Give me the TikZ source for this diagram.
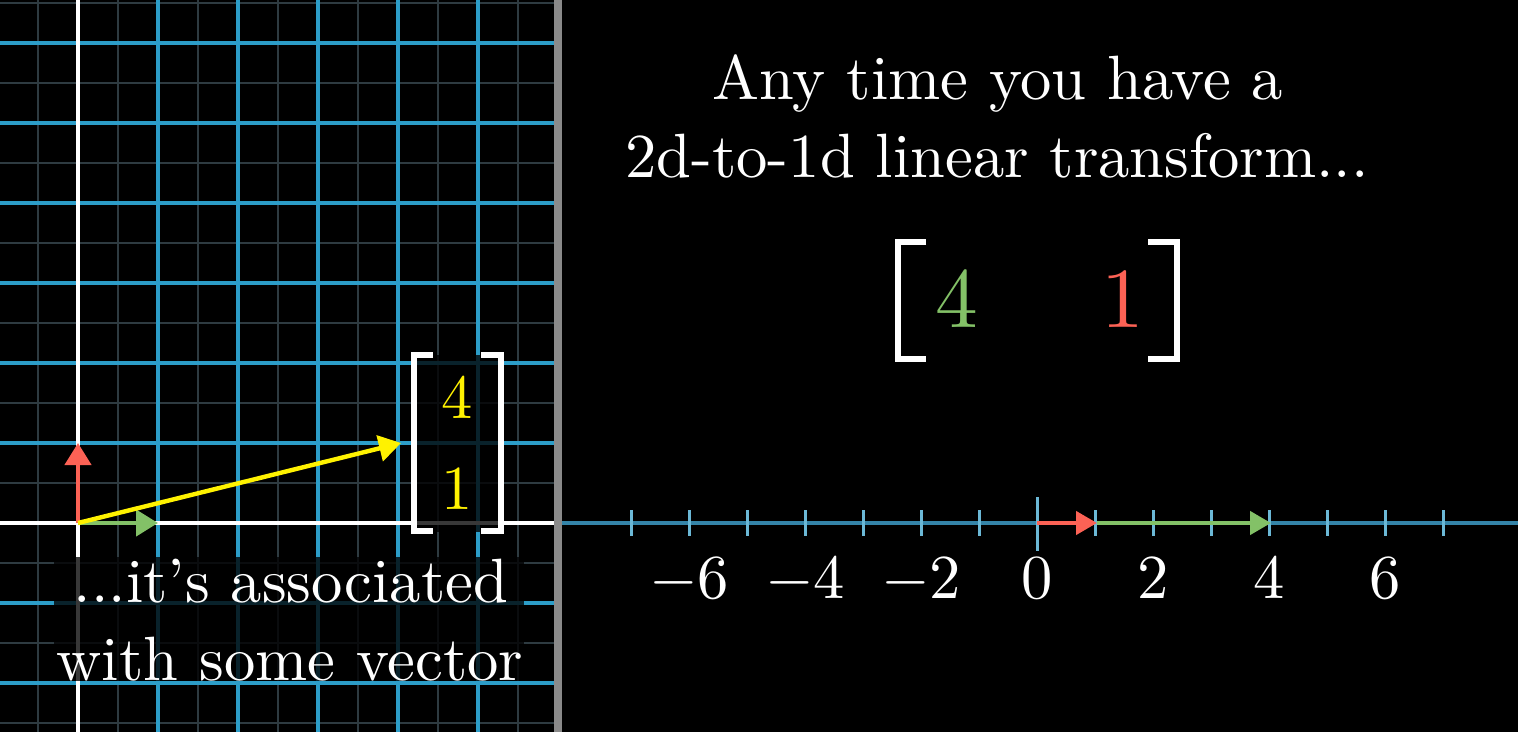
\documentclass[tikz,border=0pt]{standalone}
\usetikzlibrary{arrows.meta}
\definecolor{gridblue}{HTML}{2C9DC8}
\definecolor{faintgrid}{HTML}{2E3B41}
\definecolor{lineblue}{HTML}{3484A8}
\definecolor{tickblue}{HTML}{6BB8D6}
\definecolor{vecred}{HTML}{FC6255}
\definecolor{vecgreen}{HTML}{83C167}
\definecolor{vecyellow}{HTML}{FFF200}
\definecolor{divgray}{HTML}{8A8A8A}

\begin{document}
\begin{tikzpicture}[x=0.5pt, y=-0.5pt,
    txt/.style={text=white, font=\fontsize{10}{12}\selectfont, scale=3.13, inner sep=0pt, anchor=base},
    bigdigit/.style={font=\fontsize{10}{12}\selectfont, scale=4.27, inner sep=0pt, anchor=base},
    bracket/.style={draw=white, line width=2.6pt, miter limit=10},
    vec/.style={line width=2.2pt, -{Triangle[length=11pt, width=13pt]}},
    linevec/.style={line width=2.2pt, -{Triangle[length=10.5pt, width=11.5pt]}},
    dimbox/.style={fill=black, opacity=0.78}]
    \fill[black] (0,0) rectangle (1518,732);
    \useasboundingbox (0,0) rectangle (1518,732);

    % left half: plane with grid
    \begin{scope}
        \clip (0,0) rectangle (554,732);
        \foreach \x in {38,118,...,518}
            \draw[faintgrid, line width=1pt] (\x,0) -- (\x,732);
        \foreach \y in {3,83,...,723}
            \draw[faintgrid, line width=1pt] (0,\y) -- (554,\y);
        \foreach \x in {158,238,...,478}
            \draw[gridblue, line width=2pt] (\x,0) -- (\x,732);
        \foreach \y in {43,123,...,683}
            \draw[gridblue, line width=2pt] (0,\y) -- (554,\y);
        \draw[white, line width=2pt] (0,523) -- (554,523);
        \draw[white, line width=2pt] (78,0) -- (78,732);
        \fill[dimbox] (414,355) rectangle (501,532);
        \fill[dimbox] (54,557) rectangle (524,681);
    \end{scope}
    \fill[divgray] (554,0) rectangle (562,732);

    \coordinate (O) at (78,523);
    \coordinate (ihat) at (158,523);
    \coordinate (jhat) at (78,443);
    \coordinate (v) at (401,443);
    \draw[vec, vecred] (O) -- (jhat);
    \draw[vec, vecgreen] (O) -- (ihat);
    \draw[vec, vecyellow] (O) -- (v);

    % column vector
    \draw[bracket] (433,355) -- (414,355) -- (414,531) -- (433,531);
    \draw[bracket] (481,355) -- (501,355) -- (501,531) -- (481,531);
    \node[txt, text=vecyellow] (v4) at (457,418) {$4$};
    \node[txt, text=vecyellow] (v1) at (457,509) {$1$};

    \node[txt] (cap1) at (291,602) {...it's associated};
    \node[txt] (cap2) at (290,680) {with some vector};

    % right half: number line
    \draw[lineblue, line width=2.2pt] (562,523) -- (1518,523);
    \foreach \i in {-7,...,7}
        \draw[tickblue, line width=1.5pt] (1037+58*\i,510) -- (1037+58*\i,536);
    \draw[tickblue, line width=1.5pt] (1037,497) -- (1037,551);
    \foreach \n in {-6,-4,...,6}
        \node[txt] (lab\n) at (1037+58*\n,598) {$\n$};

    \coordinate (n0) at (1037,523);
    \coordinate (n1) at (1097,523);
    \coordinate (n4) at (1271,523);
    \draw[linevec, vecred] (n0) -- (n1);
    \draw[linevec, vecgreen] (n1) -- (n4);

    \node[txt] (title1) at (998,100) {Any time you have a};
    \node[txt] (title2) at (997,178) {2d-to-1d linear transform...};

    % 1x2 matrix
    \draw[bracket] (926,242) -- (898,242) -- (898,359) -- (926,359);
    \draw[bracket] (1148,242) -- (1177,242) -- (1177,359) -- (1148,359);
    \node[bigdigit, text=vecgreen] (m4) at (957,328) {$4$};
    \node[bigdigit, text=vecred] (m1) at (1123,328) {$1$};
\end{tikzpicture}
\end{document}
